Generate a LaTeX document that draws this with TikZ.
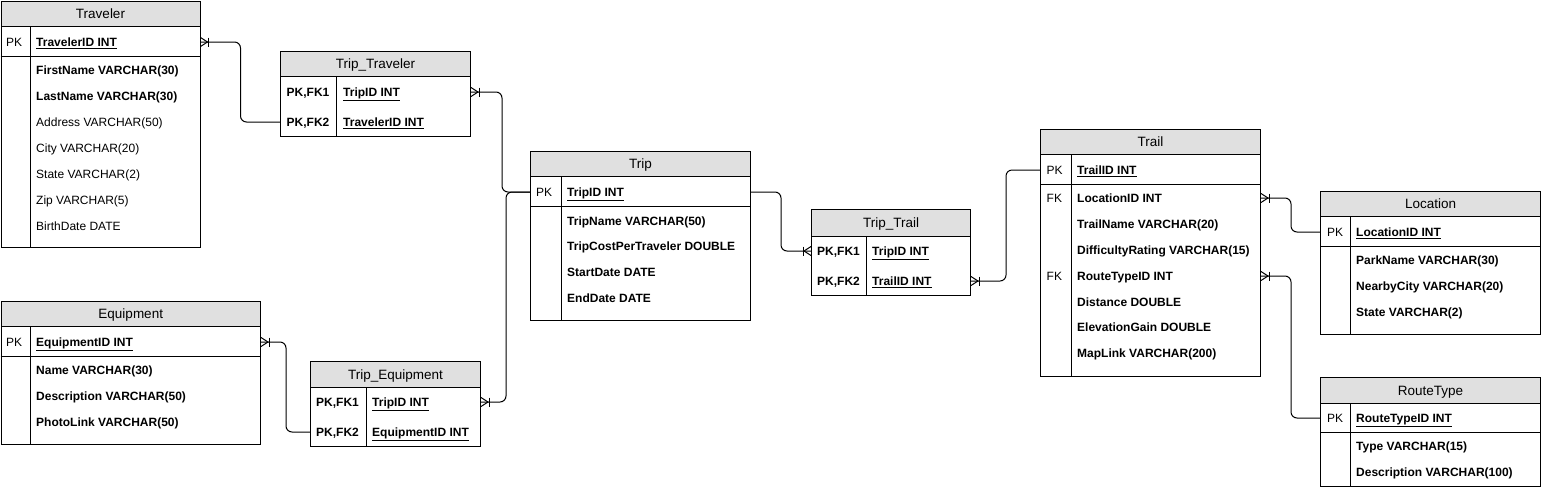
\documentclass[tikz,border=0pt]{standalone}
\usepackage{fontspec}
\setmainfont{Liberation Sans}
\newcommand\ERhfont{\fontsize{13.5}{16}\selectfont}
\newcommand\ERffont{\fontsize{12}{14}\selectfont}
\definecolor{hdrgray}{HTML}{E0E0E0}
\tikzset{
  hdr/.style={draw, line width=1pt, fill=hdrgray, anchor=north west, inner sep=0pt, font=\ERhfont, text height=9.6pt, text depth=0pt},
  tb/.style={draw, line width=1pt, fill=white, anchor=north west, inner sep=0pt},
  sep/.style={line width=1pt},
  fb/.style={anchor=west, inner sep=0pt, font=\ERffont\bfseries, text height=8.6pt, text depth=0pt},
  fr/.style={anchor=west, inner sep=0pt, font=\ERffont, text height=8.6pt, text depth=0pt},
  rel/.style={line width=1pt, rounded corners=6pt},
  crow/.pic={\draw[line width=1pt] (0,-4.5) -- (7,0) -- (0,4.5); \draw[line width=1pt] (8,-4.5) -- (8,4.5);}
}
\begin{document}
\begin{tikzpicture}[x=1pt,y=-1pt]
\useasboundingbox (0,0) rectangle (1541,488);
% ---------- Traveler
\node[hdr, minimum width=199pt, minimum height=26pt] (trv-h) at (0.5,0.5) {Traveler};
\node[tb, minimum width=199pt, minimum height=221pt] (trv) at (0.5,26) {};
\draw[sep] (0.5,56) -- (199.5,56);
\draw[sep] (30,26) -- (30,247);
\node[fr] (trv-pk) at (6,42) {PK};
\node[fb] (trv-id) at (36,42) {\underline{TravelerID INT}};
\node[fb] (trv-f1) at (36,70) {FirstName VARCHAR(30)};
\node[fb] (trv-f2) at (36,96) {LastName VARCHAR(30)};
\node[fr] (trv-f3) at (36,122) {Address VARCHAR(50)};
\node[fr] (trv-f4) at (36,148) {City VARCHAR(20)};
\node[fr] (trv-f5) at (36,174) {State VARCHAR(2)};
\node[fr] (trv-f6) at (36,200) {Zip VARCHAR(5)};
\node[fr] (trv-f7) at (36,226) {BirthDate DATE};
% ---------- Equipment
\node[hdr, minimum width=259.5pt, minimum height=25.3pt] (eq-h) at (0.5,300.7) {Equipment};
\node[tb, minimum width=259.5pt, minimum height=118pt] (eq) at (0.5,326) {};
\draw[sep] (0.5,356) -- (260,356);
\draw[sep] (30.7,326) -- (30.7,444);
\node[fr] (eq-pk) at (6,342) {PK};
\node[fb] (eq-id) at (36,342) {\underline{EquipmentID INT}};
\node[fb] (eq-f1) at (36,370) {Name VARCHAR(30)};
\node[fb] (eq-f2) at (36,396) {Description VARCHAR(50)};
\node[fb] (eq-f3) at (36,422) {PhotoLink VARCHAR(50)};
% ---------- Trip_Traveler
\node[hdr, minimum width=190pt, minimum height=25pt] (ttr-h) at (280,51) {Trip\_Traveler};
\node[tb, minimum width=190pt, minimum height=60pt] (ttr) at (280,76) {};
\draw[sep] (336.7,76) -- (336.7,136);
\node[fb] (ttr-k1) at (286.5,92) {PK,FK1};
\node[fb] (ttr-trip) at (343,92) {\underline{TripID INT}};
\node[fb] (ttr-k2) at (286.5,122) {PK,FK2};
\node[fb] (ttr-trv) at (343,122) {\underline{TravelerID INT}};
% ---------- Trip
\node[hdr, minimum width=220pt, minimum height=25pt] (trp-h) at (530,151) {Trip};
\node[tb, minimum width=220pt, minimum height=144pt] (trp) at (530,176) {};
\draw[sep] (530,206) -- (750,206);
\draw[sep] (561,176) -- (561,320);
\node[fr] (trp-pk) at (536,192) {PK};
\node[fb] (trp-id) at (567,192) {\underline{TripID INT}};
\node[fb] (trp-f1) at (567,221) {TripName VARCHAR(50)};
\node[fb] (trp-f2) at (567,246) {TripCostPerTraveler DOUBLE};
\node[fb] (trp-f3) at (567,272) {StartDate DATE};
\node[fb] (trp-f4) at (567,298) {EndDate DATE};
% ---------- Trip_Equipment
\node[hdr, minimum width=170pt, minimum height=26pt] (teq-h) at (310,361) {Trip\_Equipment};
\node[tb, minimum width=170pt, minimum height=59pt] (teq) at (310,387) {};
\draw[sep] (366,387) -- (366,446);
\node[fb] (teq-k1) at (316,402) {PK,FK1};
\node[fb] (teq-trip) at (372,402) {\underline{TripID INT}};
\node[fb] (teq-k2) at (316,432) {PK,FK2};
\node[fb] (teq-eq) at (372,432) {\underline{EquipmentID INT}};
% ---------- Trip_Trail
\node[hdr, minimum width=159pt, minimum height=27pt] (ttl-h) at (811,209) {Trip\_Trail};
\node[tb, minimum width=159pt, minimum height=59pt] (ttl) at (811,236) {};
\draw[sep] (866,236) -- (866,295);
\node[fb] (ttl-k1) at (817,251) {PK,FK1};
\node[fb] (ttl-trip) at (872,251) {\underline{TripID INT}};
\node[fb] (ttl-k2) at (817,281) {PK,FK2};
\node[fb] (ttl-trl) at (872,281) {\underline{TrailID INT}};
% ---------- Trail
\node[hdr, minimum width=220pt, minimum height=25pt] (trl-h) at (1040,129) {Trail};
\node[tb, minimum width=220pt, minimum height=222pt] (trl) at (1040,154) {};
\draw[sep] (1040,184) -- (1260,184);
\draw[sep] (1071,154) -- (1071,376);
\node[fr] (trl-pk) at (1046.5,170) {PK};
\node[fb] (trl-id) at (1077,170) {\underline{TrailID INT}};
\node[fr] (trl-fk1) at (1046.5,198) {FK};
\node[fb] (trl-loc) at (1077,198) {LocationID INT};
\node[fb] (trl-f2) at (1077,224) {TrailName VARCHAR(20)};
\node[fb] (trl-f3) at (1077,250) {DifficultyRating VARCHAR(15)};
\node[fr] (trl-fk2) at (1046.5,276) {FK};
\node[fb] (trl-rt) at (1077,276) {RouteTypeID INT};
\node[fb] (trl-f5) at (1077,302) {Distance DOUBLE};
\node[fb] (trl-f6) at (1077,327) {ElevationGain DOUBLE};
\node[fb] (trl-f7) at (1077,353) {MapLink VARCHAR(200)};
% ---------- Location
\node[hdr, minimum width=220pt, minimum height=25pt] (loc-h) at (1320,191) {Location};
\node[tb, minimum width=220pt, minimum height=118pt] (loc) at (1320,216) {};
\draw[sep] (1320,246) -- (1540,246);
\draw[sep] (1350,216) -- (1350,334);
\node[fr] (loc-pk) at (1327,232) {PK};
\node[fb] (loc-id) at (1356,232) {\underline{LocationID INT}};
\node[fb] (loc-f1) at (1356,260) {ParkName VARCHAR(30)};
\node[fb] (loc-f2) at (1356,286) {NearbyCity VARCHAR(20)};
\node[fb] (loc-f3) at (1356,312) {State VARCHAR(2)};
% ---------- RouteType
\node[hdr, minimum width=220pt, minimum height=26pt] (rt-h) at (1320,377) {RouteType};
\node[tb, minimum width=220pt, minimum height=83pt] (rt) at (1320,403) {};
\draw[sep] (1320,432) -- (1540,432);
\draw[sep] (1350,403) -- (1350,486);
\node[fr] (rt-pk) at (1327,418) {PK};
\node[fb] (rt-id) at (1356,418) {\underline{RouteTypeID INT}};
\node[fb] (rt-f1) at (1356,446) {Type VARCHAR(15)};
\node[fb] (rt-f2) at (1356,472) {Description VARCHAR(100)};
% ---------- relationships
\draw[rel] (trv.east |- trv-id) -- ++(40,0) |- (ttr.west |- ttr-trv);
\pic at (trv.east |- trv-id) {crow};
\draw[rel] (ttr.east |- ttr-trip) -- ++(31,0) |- (trp.west |- trp-id);
\pic at (ttr.east |- ttr-trip) {crow};
\draw[rel] (teq.east |- teq-trip) -- ++(25,0) |- (trp.west |- trp-id);
\pic at (teq.east |- teq-trip) {crow};
\draw[rel] (eq.east |- eq-id) -- ++(25,0) |- (teq.west |- teq-eq);
\pic at (eq.east |- eq-id) {crow};
\draw[rel] (trp.east |- trp-id) -- ++(30,0) |- (ttl.west |- ttl-trip);
\pic[xscale=-1] at (ttl.west |- ttl-trip) {crow};
\draw[rel] (ttl.east |- ttl-trl) -- ++(35,0) |- (trl.west |- trl-id);
\pic at (ttl.east |- ttl-trl) {crow};
\draw[rel] (trl.east |- trl-loc) -- ++(30,0) |- (loc.west |- loc-id);
\pic at (trl.east |- trl-loc) {crow};
\draw[rel] (trl.east |- trl-rt) -- ++(30,0) |- (rt.west |- rt-id);
\pic at (trl.east |- trl-rt) {crow};
\end{tikzpicture}
\end{document}
